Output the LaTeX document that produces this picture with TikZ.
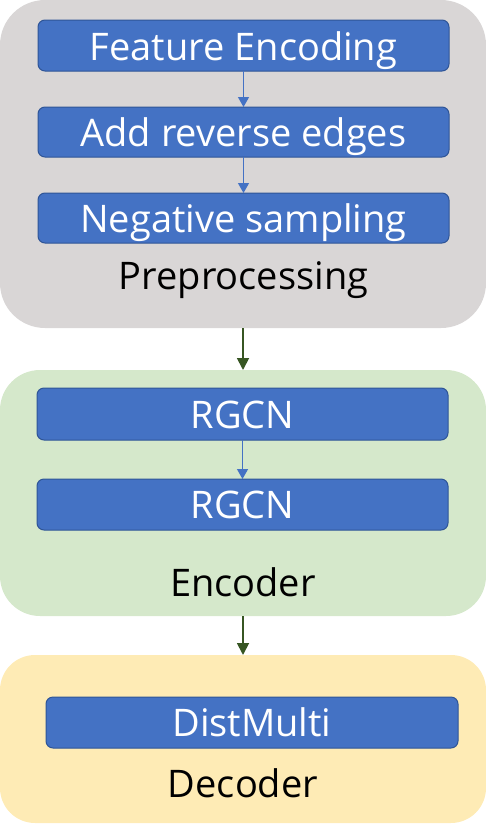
\documentclass[tikz,border=0pt]{standalone}
\usepackage{fontspec}
\setmainfont{Open Sans}
\usetikzlibrary{arrows.meta}
\definecolor{grayc}{HTML}{D9D6D6}
\definecolor{greenc}{HTML}{D5E8CB}
\definecolor{yellowc}{HTML}{FEEBB5}
\definecolor{bluef}{HTML}{4472C4}
\definecolor{blued}{HTML}{2F5597}
\definecolor{darkg}{HTML}{375623}
\tikzset{
  bluebox/.style={draw=blued, line width=1pt, fill=bluef, rounded corners=7pt},
  boxtext/.style={text=white, font=\fontsize{38}{42}\selectfont, inner sep=0pt, anchor=base},
  lbltext/.style={text=black, font=\fontsize{38}{42}\selectfont, inner sep=0pt, anchor=base},
  barrow/.style={draw=bluef, line width=1.3pt, -{Triangle[length=10pt,width=11pt]}},
  garrow/.style={draw=darkg, line width=1.8pt, -{Triangle[length=12pt,width=12pt]}}
}
\begin{document}
\begin{tikzpicture}[x=1pt,y=-1pt]
\useasboundingbox (0,0) rectangle (486,830);
% containers
\fill[grayc, rounded corners=45pt] (0,0) rectangle (486,328);
\fill[greenc, rounded corners=40pt] (0,370) rectangle (486,616);
\fill[yellowc, rounded corners=35pt] (0,655) rectangle (486,823);
% preprocessing
\draw[bluebox] (38,20) rectangle (449,71);
\node[boxtext] (fe) at (243.5,60) {Feature Encoding};
\coordinate (feb) at (243.5,71);
\draw[bluebox] (38,107) rectangle (449,157);
\node[boxtext] (ar) at (243.5,146) {Add reverse edges};
\coordinate (art) at (243.5,107);
\coordinate (arb) at (243.5,157);
\draw[bluebox] (38,193) rectangle (449,243);
\node[boxtext] (ns) at (243.5,232) {Negative sampling};
\coordinate (nst) at (243.5,193);
\node[lbltext] (pre) at (243.5,289) {Preprocessing};
% encoder
\draw[bluebox] (37,388) rectangle (448,440);
\node[boxtext] (r1) at (242.5,428) {RGCN};
\coordinate (r1b) at (242.5,440);
\draw[bluebox] (37,479) rectangle (448,530);
\node[boxtext] (r2) at (242.5,518) {RGCN};
\coordinate (r2t) at (242.5,479);
\node[lbltext] (enc) at (243,596) {Encoder};
% decoder
\draw[bluebox] (46,697) rectangle (458,748);
\node[boxtext] (dm) at (252,736) {DistMulti};
\node[lbltext] (dec) at (243,797) {Decoder};
% arrows
\draw[barrow] (feb) -- (art);
\draw[barrow] (arb) -- (nst);
\draw[barrow] (r1b) -- (r2t);
\coordinate (g1) at (243,328);
\coordinate (g2) at (243,370);
\coordinate (g3) at (243,616);
\coordinate (g4) at (243,655);
\draw[garrow] (g1) -- (g2);
\draw[garrow] (g3) -- (g4);
\end{tikzpicture}
\end{document}
